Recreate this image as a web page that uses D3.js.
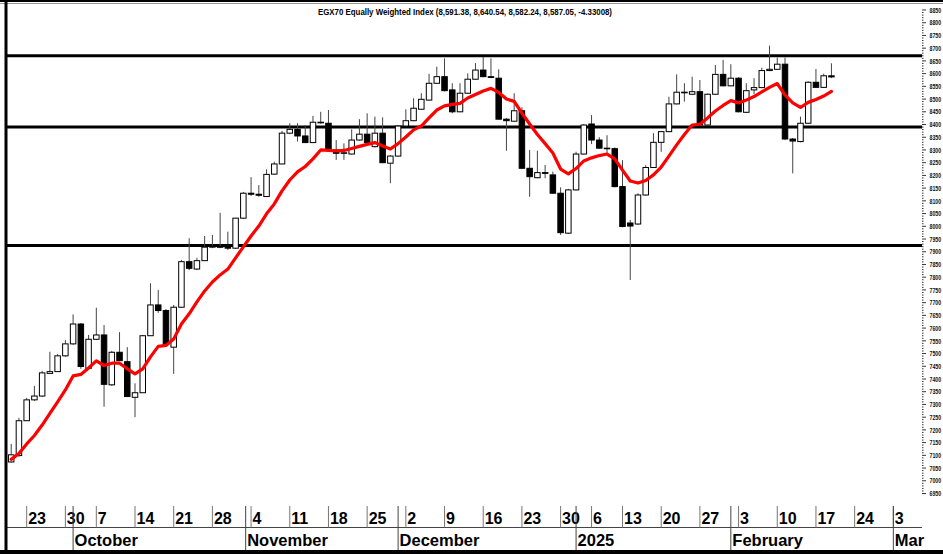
<!DOCTYPE html>
<html><head><meta charset="utf-8">
<script src="https://cdn.jsdelivr.net/npm/d3@7/dist/d3.min.js"></script>
<style>html,body{margin:0;padding:0;background:#fff;overflow:hidden}</style>
</head><body>
<svg id="c" width="943" height="554"></svg>
<script>
const title = "EGX70 Equally Weighted Index (8,591.38, 8,640.54, 8,582.24, 8,587.05, -4.33008)";
// OHLC by trading-day index
const opens  = [7074,7099,7236,7318,7333,7422,7429,7491,7538,7616,7442,7556,7573,7377,7505,7468,7328,7346,7570,7691,7669,7525,7682,7861,7832,7865,7918,7920,7927,7914,8032,8130,8126,8117,8205,8245,8366,8381,8355,8329,8409,8405,8300,8287,8284,8339,8362,8313,8366,8248,8276,8394,8415,8460,8496,8562,8588,8536,8450,8523,8578,8614,8588,8582,8421,8413,8454,8228,8191,8211,8202,8130,7973,8143,8284,8402,8339,8307,8305,8156,8013,8009,8123,8231,8330,8372,8481,8527,8519,8529,8398,8519,8597,8552,8582,8448,8536,8545,8612,8617,8637,8343,8333,8405,8566,8546,8591.38];
const highs  = [7145,7247,7326,7373,7432,7507,7498,7553,7654,7620,7573,7680,7612,7510,7584,7525,7383,7573,7776,7750,7675,7691,7868,7953,7876,7962,7966,8053,7979,8033,8135,8193,8162,8224,8254,8375,8405,8405,8398,8434,8450,8457,8339,8326,8381,8421,8444,8431,8428,8280,8398,8460,8503,8523,8599,8627,8660,8562,8562,8601,8641,8666,8660,8617,8425,8523,8468,8300,8297,8241,8215,8153,8147,8293,8402,8437,8350,8358,8310,8260,8025,8130,8240,8366,8375,8509,8597,8562,8588,8575,8522,8634,8654,8637,8586,8562,8582,8623,8710,8663,8663,8347,8431,8570,8618,8600,8640.54];
const lows   = [7071,7094,7235,7314,7329,7420,7428,7487,7534,7440,7440,7553,7291,7373,7471,7330,7250,7345,7569,7660,7534,7420,7679,7828,7828,7864,7914,7914,7907,7911,8029,8119,8116,8115,8203,8244,8362,8333,8327,8327,8403,8298,8261,8261,8282,8337,8327,8310,8248,8169,8274,8392,8413,8458,8494,8560,8530,8444,8448,8521,8576,8586,8582,8419,8297,8411,8226,8116,8189,8189,8128,7966,7970,8141,8282,8323,8305,8287,8153,7996,7789,8005,8120,8229,8293,8370,8479,8490,8517,8396,8396,8517,8550,8550,8448,8445,8519,8543,8610,8615,8340,8208,8330,8403,8544,8544,8582.24];
const closes = [7102,7236,7318,7333,7424,7429,7491,7538,7616,7449,7556,7573,7379,7505,7472,7331,7346,7570,7691,7669,7537,7682,7861,7835,7865,7918,7922,7918,7914,8032,8130,8126,8122,8204,8245,8366,8381,8355,8329,8409,8407,8300,8287,8289,8339,8362,8329,8366,8250,8276,8394,8415,8464,8499,8562,8588,8533,8450,8523,8578,8614,8588,8585,8421,8415,8454,8228,8195,8211,8208,8130,7975,8143,8284,8398,8339,8307,8305,8156,7999,8001,8123,8231,8330,8372,8481,8527,8525,8529,8398,8519,8597,8552,8582,8450,8533,8545,8612,8617,8637,8343,8335,8405,8566,8546,8591.38,8587.05];
// moving average line
const maValues = [7084,7107,7145,7178,7219,7265,7310,7357,7412,7418,7443,7471,7453,7462,7462,7440,7420,7440,7487,7528,7532,7557,7616,7656,7703,7746,7781,7809,7832,7876,7919,7962,8001,8049,8088,8139,8182,8214,8235,8265,8300,8298,8296,8298,8306,8314,8322,8329,8316,8304,8325,8351,8379,8394,8426,8457,8473,8479,8483,8504,8518,8532,8542,8526,8500,8491,8445,8402,8361,8325,8288,8225,8206,8227,8257,8269,8278,8284,8265,8221,8178,8170,8180,8202,8233,8276,8320,8361,8398,8401,8426,8453,8475,8494,8485,8496,8510,8528,8546,8561,8516,8485,8467,8487,8498,8512,8530];
const levels = [8670, 8390, 7925];
const weekTickIdx = [2,7,11,16,21,26,31,36,41,46,51,56,61,66,71,75,79,84,89,94,99,104,109,114];
const weekTickLabels = ["23","30","7","14","21","28","4","11","18","25","2","9","16","23","30","6","13","20","27","3","10","17","24","3"];
const monthIdx = [8,30.3,50,73,93,114];
const monthLabels = ["October","November","December","2025","February","Mar"];
const yTickMin = 6950, yTickMax = 8850, yMajor = 50, yMinor = 10;

const svg = d3.select("#c");
const W = 943, H = 554;
const plotL = 7, plotR = 922;
const x = d3.scaleLinear().domain([0, 114]).range([11.2, 11.2 + 7.738 * 114]);
const y = d3.scaleLinear().domain([6950, 8850]).range([493.5, 10]);
const FONT = "'Liberation Sans', Arial, Helvetica, sans-serif";

svg.append("rect").attr("width", W).attr("height", H).attr("fill", "#fff");

// title
svg.append("text").attr("x", 465).attr("y", 15).attr("text-anchor", "middle")
  .attr("font-family", FONT).attr("font-weight", "bold").attr("font-size", 8.5)
  .attr("textLength", 294).attr("lengthAdjust", "spacingAndGlyphs").text(title);

// right axis ticks
const axisG = svg.append("g");
for (let v = yTickMin; v <= yTickMax; v += yMinor) {
  const major = v % yMajor === 0;
  axisG.append("line").attr("x1", plotR).attr("x2", plotR + (major ? 4 : 1.5))
    .attr("y1", y(v)).attr("y2", y(v)).attr("stroke", "#000").attr("stroke-width", 0.8);
}
axisG.selectAll("text.yl").data(d3.range(yTickMin, yTickMax + 1, yMajor)).join("text")
  .attr("transform", d => `translate(929.5,${y(d) + 2.7}) scale(0.7,1)`)
  .attr("font-family", FONT).attr("font-weight", "bold").attr("font-size", 7.5)
  .attr("fill", "#111").text(d => d);

// level lines
svg.selectAll("line.lvl").data(levels).join("line")
  .attr("x1", plotL).attr("x2", plotR).attr("y1", d => y(d)).attr("y2", d => y(d))
  .attr("stroke", "#000").attr("stroke-width", 3);

// candles
const data = opens.map((o, i) => ({i, o, h: highs[i], l: lows[i], c: closes[i]}));
const cg = svg.append("g");
cg.selectAll("line.wick").data(data).join("line")
  .attr("x1", d => x(d.i)).attr("x2", d => x(d.i))
  .attr("y1", d => y(d.h)).attr("y2", d => y(d.l))
  .attr("stroke", "#444").attr("stroke-width", 1);
cg.selectAll("rect.body").data(data).join("rect")
  .attr("x", d => x(d.i) - 2.75).attr("width", 5.5)
  .attr("y", d => y(Math.max(d.o, d.c)))
  .attr("height", d => Math.max(0.6, Math.abs(y(d.o) - y(d.c))))
  .attr("fill", d => d.c >= d.o ? "#fff" : "#000")
  .attr("stroke", "#000").attr("stroke-width", 1);

// MA line
svg.append("path").datum(maValues)
  .attr("d", d3.line().x((d, i) => x(i)).y(d => y(d)).curve(d3.curveLinear))
  .attr("fill", "none").attr("stroke", "#ff0000").attr("stroke-width", 3.2)
  .attr("stroke-linejoin", "round").attr("stroke-linecap", "round");

// date axis
const dg = svg.append("g");
dg.append("line").attr("x1", plotL).attr("x2", plotR).attr("y1", 527.5).attr("y2", 527.5)
  .attr("stroke", "#444").attr("stroke-width", 1);
weekTickIdx.forEach((t, k) => {
  dg.append("line").attr("x1", x(t)).attr("x2", x(t)).attr("y1", 506).attr("y2", 527.5)
    .attr("stroke", "#777").attr("stroke-width", 1);
  dg.append("text").attr("x", x(t) + 1.5).attr("y", 523.5)
    .attr("font-family", FONT).attr("font-weight", "bold").attr("font-size", 16)
    .text(weekTickLabels[k]);
});
monthIdx.forEach((t, k) => {
  dg.append("line").attr("x1", x(t)).attr("x2", x(t)).attr("y1", 506).attr("y2", 551)
    .attr("stroke", "#444").attr("stroke-width", 1);
  dg.append("text").attr("x", x(t) + 1.5).attr("y", 546)
    .attr("font-family", FONT).attr("font-weight", "bold").attr("font-size", 16.5)
    .text(monthLabels[k]);
});

// frame
svg.append("rect").attr("x", 0).attr("y", 0).attr("width", W).attr("height", 2).attr("fill", "#000");
svg.append("line").attr("x1", 0).attr("x2", W).attr("y1", 3.5).attr("y2", 3.5).attr("stroke", "#999").attr("stroke-width", 1);
svg.append("rect").attr("x", 4.5).attr("y", 0).attr("width", 3).attr("height", H).attr("fill", "#000");
svg.append("rect").attr("x", 0).attr("y", 550).attr("width", W).attr("height", 4).attr("fill", "#000");
</script>
</body></html>
